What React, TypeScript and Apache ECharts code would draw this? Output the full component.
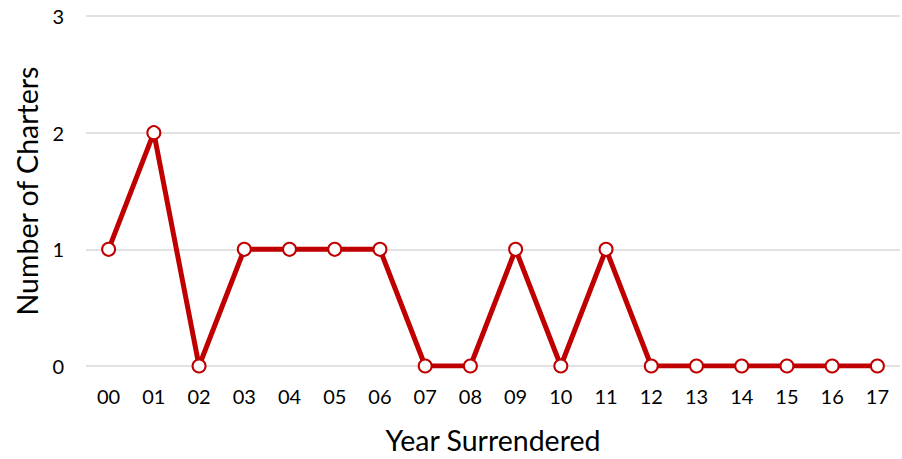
import React, { useEffect, useRef } from "react";
import * as echarts from "echarts";

const categories = ["00","01","02","03","04","05","06","07","08","09","10","11","12","13","14","15","16","17"];
const values = [1,2,0,1,1,1,1,0,0,1,0,1,0,0,0,0,0,0];
const yTicks = [0, 1, 2, 3];

export default function App() {
  const ref = useRef<HTMLDivElement>(null);
  useEffect(() => {
    const chart = echarts.init(ref.current!, null, { renderer: "svg" });
    const font = "Lato, 'Open Sans', sans-serif";
    chart.setOption({
      animation: false,
      grid: { left: 86, right: 2, top: 16, bottom: 91 },
      xAxis: {
        type: "category",
        data: categories,
        boundaryGap: true,
        name: "Year Surrendered",
        nameLocation: "middle",
        nameGap: 59,
        nameTextStyle: { fontSize: 28.5, color: "#000", fontFamily: font },
        axisLine: { show: false },
        axisTick: { show: false },
        axisLabel: { fontSize: 20, color: "#000", fontFamily: font, margin: 20 },
      },
      yAxis: {
        type: "value",
        min: yTicks[0],
        max: yTicks[yTicks.length - 1],
        interval: 1,
        name: "Number of Charters",
        nameLocation: "middle",
        nameGap: 44,
        nameTextStyle: { fontSize: 28.5, color: "#000", fontFamily: font },
        axisLine: { show: false },
        axisTick: { show: false },
        axisLabel: { fontSize: 20, color: "#000", fontFamily: font, margin: 22 },
        splitLine: { lineStyle: { color: "#d9d9d9", width: 1.5 } },
      },
      series: [
        {
          type: "line",
          data: values,
          symbol: "circle",
          symbolSize: 13,
          lineStyle: { color: "#c00000", width: 5 },
          itemStyle: { color: "#ffffff", borderColor: "#c00000", borderWidth: 2 },
        },
      ],
    });
    return () => chart.dispose();
  }, []);
  return <div ref={ref} style={{ width: 902, height: 459, position: "absolute", left: 0, top: 0 }} />;
}
